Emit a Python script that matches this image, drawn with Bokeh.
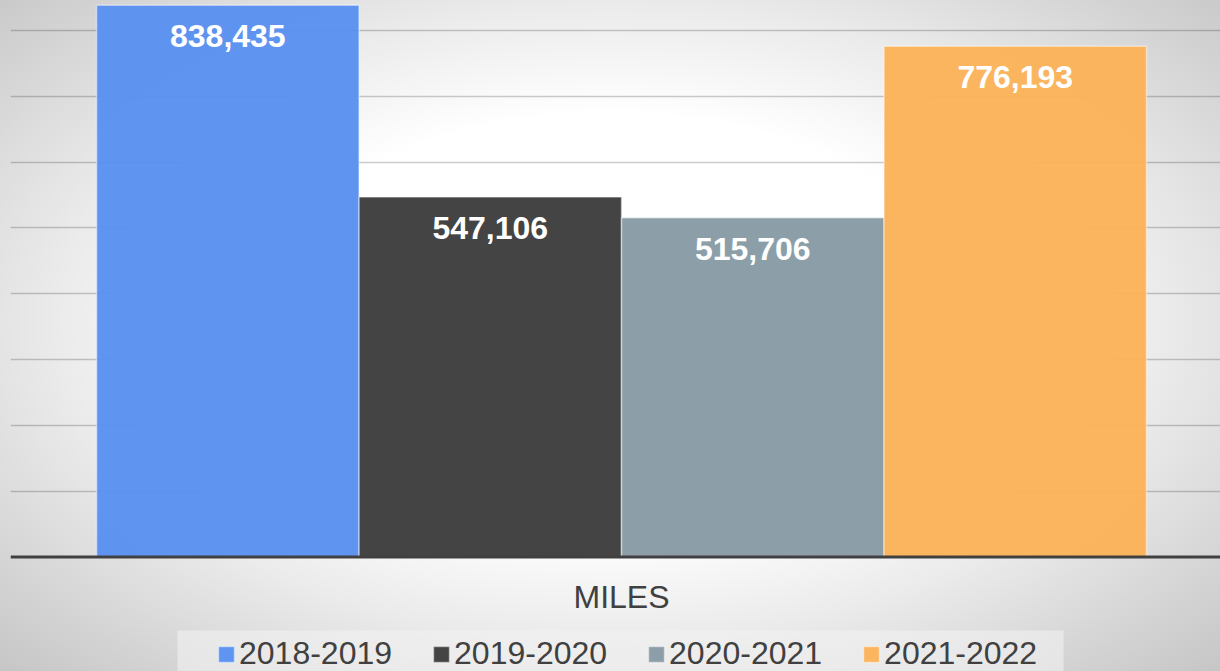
from bokeh.plotting import figure
from bokeh.models import (Range1d, Span, Label, Legend, LegendItem, ColumnDataSource,
                          FixedTicker, Grid, BoxAnnotation)
from bokeh.core.properties import value
from bokeh.embed import file_html
from bokeh.resources import INLINE

seasons = ["2018-2019", "2019-2020", "2020-2021", "2021-2022"]
miles = [838435, 547106, 515706, 776193]
miles_labels = ["838,435", "547,106", "515,706", "776,193"]
colors = ["#5a92f0", "#3e3e3e", "#889ca6", "#fbb35a"]
category = "MILES"
grid_values = [100000, 200000, 300000, 400000, 500000, 600000, 700000, 800000]

src = ColumnDataSource(dict(x=list(range(len(seasons))), top=miles, label=miles_labels,
                            color=colors, season=seasons))

bg = ("radial-gradient(ellipse farthest-corner at 50% 48%, #ffffff 0%, #ffffff 42%, "
      "#ebebeb 64%, #d6d6d6 84%, #c6c6c6 100%)")

p = figure(width=1220, height=671, output_backend="svg", toolbar_location=None,
           x_range=Range1d(-0.828, 3.782), y_range=Range1d(-174000, 845700),
           x_axis_type=None, y_axis_type=None,
           min_border_left=10, min_border_right=0, min_border_top=0, min_border_bottom=0,
           styles={"position": "absolute", "top": "0px", "left": "0px", "background": bg})
p.background_fill_alpha = 0
p.border_fill_alpha = 0
p.outline_line_color = None

grid = Grid(dimension=1, ticker=FixedTicker(ticks=grid_values),
            grid_line_color="black", grid_line_alpha=0.2, grid_line_width=1.5)
p.add_layout(grid)

# legend background panel
p.add_layout(BoxAnnotation(left=167, right=1053, bottom=-20, top=41,
                           left_units="screen", right_units="screen",
                           bottom_units="screen", top_units="screen",
                           fill_color="#f2f2f2", fill_alpha=0.6, line_color=None,
                           level="underlay"))

r = p.vbar(x="x", top="top", bottom=0, width=1.0, source=src, fill_color="color",
           fill_alpha=0.97, line_color="white", line_alpha=0.45, line_width=1.5)

p.text(x="x", y="top", text="label", source=src, y_offset=31,
       text_align="center", text_baseline="middle", text_color="white",
       text_font=value("Liberation Sans"), text_font_style="bold", text_font_size="32px")

p.add_layout(Span(location=0, dimension="width", line_color="#404040", line_width=3))

p.add_layout(Label(x=1.5, y=0, text=category, y_offset=-40, text_align="center",
                   text_baseline="middle", text_color="#404040",
                   text_font="Liberation Sans", text_font_size="32px"))

items = [LegendItem(label=s, renderers=[r], index=i) for i, s in enumerate(seasons)]
legend = Legend(items=items, orientation="horizontal", location=(206, -1),
                label_text_font="Liberation Sans", label_text_font_size="32px",
                label_text_color="#404040", glyph_width=20, glyph_height=20,
                label_standoff=3, spacing=39, margin=0,
                background_fill_alpha=0, border_line_color=None)
p.add_layout(legend)

open("out.html", "w").write(file_html(p, INLINE))
